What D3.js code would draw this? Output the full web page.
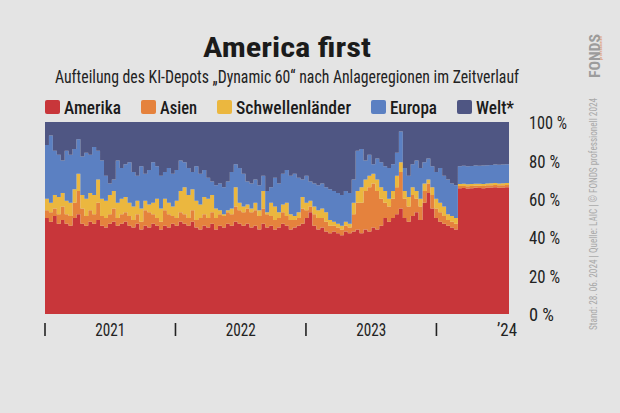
<!DOCTYPE html>
<html><head><meta charset="utf-8">
<script src="https://cdn.jsdelivr.net/npm/d3@7/dist/d3.min.js"></script>
<style>
html,body{margin:0;padding:0;background:#e4e4e4;}
svg{display:block;}
text{font-family:"Roboto Condensed","DejaVu Sans Condensed","Liberation Sans Narrow",Roboto,sans-serif;}
</style></head>
<body>
<svg id="c" width="620" height="413"></svg>
<script>
// ---- data (shares in %, sampled every 11 days from 2021-01-01) ----
const startDate = "2021-01-01";
const stepDays = 11;
const seriesNames = ["Amerika","Asien","Schwellenländer","Europa","Welt*"];
const amerika = [50,48,51,47,49,47,46,50,52,47,46,48,47,49,46,45,47,48,46,47,48,46,45,47,44,46,45,47,46,44,46,45,47,46,48,47,46,48,45,44,46,45,47,44,46,45,47,46,48,47,46,47,45,46,44,47,45,46,44,45,47,46,44,45,46,47,50,53,46,44,45,43,42,43,42,41,43,42,43,44,42,44,43,45,44,46,50,48,50,52,55,50,48,51,53,49,58,63,55,50,48,47,46,45,44,65.5,65.6,65.4,65.5,65.7,65.6,65.5,65.8,65.9,66,65.8,65.9,66,66.1];
const asien = [4,5,4,5,7,5,5,8,12,8,5,6,5,9,5,5,5,7,4,5,5,5,4,5,4,8,8,5,4,4,8,7,4,4,5,5,4,6,4,6,6,5,6,6,6,6,6,6,8,7,7,8,8,8,7,8,7,5,5,5,6,5,5,4,4,8,4,3,6,6,5,5,4,3,3,3,3,3,9,14,16,20,23,23,20,14,8,8,10,14,19,10,8,11,7,7,6,5,7,5,5,4,3,3,3,1.2,1.1,1.2,1.2,1.1,1.2,1.2,1.2,1.1,1.2,1.2,1.2,1.2,1.1];
const schwellen = [6,5,7,9,7,7,7,7,9,7,9,9,10,12,9,9,10,9,8,8,8,7,7,7,7,5,4,6,10,7,6,6,5,9,11,14,12,11,10,7,9,10,9,5,2,1,1,3,10,4,3,2,2,4,3,9,1,7,7,3,4,7,3,2,3,6,4,3,4,4,5,5,3,2,2,2,2,2,6,6,8,6,6,5,6,6,6,4,4,6,5,4,5,4,4,4,4,2,4,5,5,5,3,3,3,1,1.1,1,1,1.1,1,1,1,1.1,1,1,1,1,1.1];
const europa = [28,35,23,22,17,26,25,21,18,20,24,20,25,15,20,13,6,6,22,16,17,21,18,13,22,14,18,21,17,17,14,18,17,16,16,13,14,9,18,16,14,11,7,12,14,14,15,19,12,18,17,12,13,12,13,8,11,8,15,15,16,17,20,22,18,9,14,10,12,13,13,13,16,16,16,16,16,16,12,21,20,10,11,5,11,13,13,16,14,12,16,12,11,12,16,16,11,11,11,14,18,16,18,17,17,9.3,9.4,9.4,9.4,9.4,9.4,9.7,9.5,9.5,9.6,9.7,9.8,9.8,9.7];
const welt = [12,7,15,17,20,15,17,14,9,18,16,17,13,15,20,28,32,30,20,24,22,21,26,28,23,27,25,21,23,28,26,24,27,25,20,21,24,26,23,27,25,29,31,33,32,34,31,26,22,24,27,31,32,30,33,28,36,34,29,32,27,25,28,27,29,30,28,31,32,33,32,34,35,36,37,38,36,37,30,15,14,20,17,22,19,21,23,24,22,16,5,24,28,22,20,24,21,19,23,26,24,28,30,32,33,23,22.8,23,22.9,22.7,22.8,22.6,22.5,22.4,22.2,22.3,22.1,22,22];
const yTickValues = [0,20,40,60,80,100];
const xTickYears = ["2021-01-01","2022-01-01","2023-01-01","2024-01-01"];
const xYearLabels = ["2021","2022","2023"];
const colors = ["#c8363a","#e5823d","#ebb73f","#5b80c2","#4f5683"];

// ---- build table ----
const parse = d3.utcParse("%Y-%m-%d");
const t0 = parse(startDate);
const table = amerika.map((v,i)=>({
  date: d3.utcDay.offset(t0, i*stepDays),
  "Amerika": v, "Asien": asien[i], "Schwellenländer": schwellen[i], "Europa": europa[i], "Welt*": welt[i]
}));

const svg = d3.select("#c");
const W = 620, H = 413;
svg.append("rect").attr("width",W).attr("height",H).attr("fill","#e4e4e4");

const mLeft = 45, mRight = 509, mTop = 122, mBottom = 314;
const x = d3.scaleUtc().domain([table[0].date, table[table.length-1].date]).range([mLeft,mRight]);
const y = d3.scaleLinear().domain([0,100]).range([mBottom,mTop]);

const stack = d3.stack().keys(seriesNames);
const layers = stack(table);
const area = d3.area()
  .x(d=>x(d.data.date)).y0(d=>y(d[0])).y1(d=>y(Math.min(100,d[1])))
  .curve(d3.curveStepAfter);

svg.append("g").selectAll("path").data(layers).join("path")
  .attr("d",area).attr("fill",(d,i)=>colors[i]);

// ---- title / subtitle ----
svg.append("text").attr("x",287).attr("y",57).attr("text-anchor","middle")
  .attr("font-size",28).attr("font-weight",700).attr("fill","#1b1b1b")
  .attr("textLength",168).attr("lengthAdjust","spacingAndGlyphs")
  .text("America first");
svg.append("text").attr("x",287).attr("y",83).attr("text-anchor","middle")
  .attr("font-size",18).attr("fill","#222")
  .attr("textLength",464).attr("lengthAdjust","spacingAndGlyphs")
  .text("Aufteilung des KI-Depots „Dynamic 60“ nach Anlageregionen im Zeitverlauf");

// ---- legend ----
const legX = [45,141,217,371,457];
const legTW = [57,37,115,47,38];
const leg = svg.append("g");
seriesNames.forEach((n,i)=>{
  leg.append("rect").attr("x",legX[i]).attr("y",100).attr("width",15).attr("height",14)
    .attr("rx",2).attr("fill",colors[i]);
  leg.append("text").attr("x",legX[i]+19).attr("y",114).attr("font-size",18)
    .attr("font-weight",500).attr("fill","#1b1b1b")
    .attr("textLength",legTW[i]).attr("lengthAdjust","spacingAndGlyphs").text(n);
});

// ---- y axis labels (right) ----
const yAxis = d3.axisRight(y).tickValues(yTickValues).tickSize(0).tickPadding(0)
  .tickFormat(d=>d+" %");
const ga = svg.append("g").attr("transform",`translate(${529},0)`).call(yAxis);
ga.select(".domain").remove();
ga.selectAll("text").attr("font-size",19).attr("fill","#222").attr("dy","0.35em")
  .attr("font-family",'"Roboto Condensed","DejaVu Sans Condensed",Roboto,sans-serif')
  .each(function(d){ d3.select(this).attr("textLength", d===100?38:(d===0?25:31)).attr("lengthAdjust","spacingAndGlyphs"); });

// ---- x axis ----
const tickDates = xTickYears.map(parse);
const gx = svg.append("g");
tickDates.forEach(d=>{
  gx.append("line").attr("x1",x(d)).attr("x2",x(d)).attr("y1",323).attr("y2",336)
    .attr("stroke","#222").attr("stroke-width",1.6);
});
xYearLabels.forEach((lab,i)=>{
  const mid = (x(tickDates[i])+x(tickDates[i+1]))/2;
  gx.append("text").attr("x",mid).attr("y",336).attr("text-anchor","middle")
    .attr("font-size",18).attr("fill","#222")
    .attr("textLength",30).attr("lengthAdjust","spacingAndGlyphs").text(lab);
});
gx.append("text").attr("x",507).attr("y",336).attr("text-anchor","middle")
  .attr("font-size",18).attr("fill","#222")
  .attr("textLength",20).attr("lengthAdjust","spacingAndGlyphs").text("’24");

// ---- side credits ----
svg.append("text").attr("transform","translate(597,330) rotate(-90)")
  .attr("font-size",11).attr("fill","#a9a9a9")
  .attr("textLength",232).attr("lengthAdjust","spacingAndGlyphs")
  .text("Stand: 28. 06. 2024 | Quelle: LAIC | © FONDS professionell 2024");
svg.append("text").attr("transform","translate(600,78) rotate(-90)")
  .attr("font-size",14).attr("font-weight",700).attr("fill","#9c9c9c")
  .attr("textLength",44).attr("lengthAdjust","spacingAndGlyphs").text("FONDS");
svg.append("text").attr("transform","translate(602,60) rotate(-90)")
  .attr("font-size",4).attr("fill","#e08a5a")
  .attr("textLength",24).attr("lengthAdjust","spacingAndGlyphs").text("professionell");
</script>
</body></html>
